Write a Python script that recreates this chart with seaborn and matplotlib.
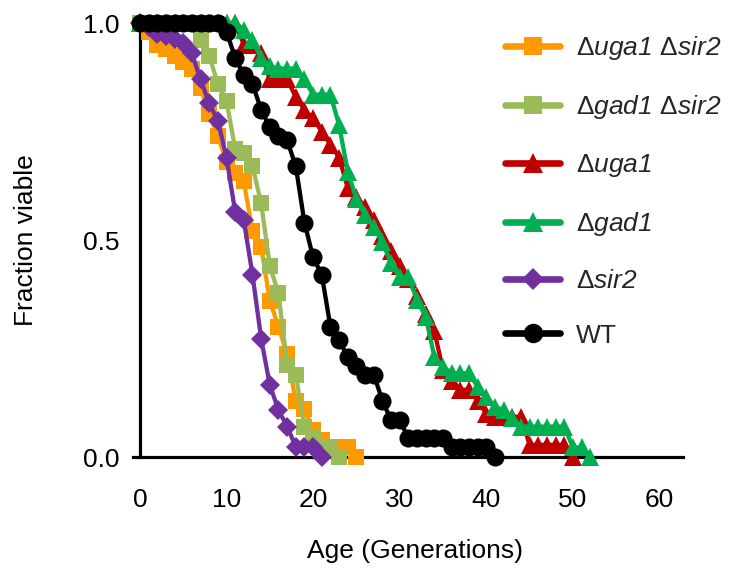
import matplotlib
matplotlib.use("Agg")
import matplotlib.pyplot as plt
import seaborn as sns
import pandas as pd
from matplotlib.lines import Line2D

# ---------------- data ----------------
gen_uga1_sir2 = [0, 1, 2, 3, 4, 5, 6, 7, 8, 9, 10, 11, 12, 13, 14, 15, 16, 17, 18, 19, 20, 21, 22, 23, 24, 25]
frac_uga1_sir2 = [1.0, 0.98, 0.95, 0.94, 0.925, 0.91, 0.895, 0.85, 0.79, 0.74, 0.68, 0.655, 0.635, 0.52, 0.485,
                  0.36, 0.30, 0.237, 0.128, 0.11, 0.062, 0.04, 0.024, 0.024, 0.024, 0.0]

gen_gad1_sir2 = [0, 1, 2, 3, 4, 5, 6, 7, 8, 9, 10, 11, 12, 13, 14, 15, 16, 17, 18, 19, 20, 21, 22, 23]
frac_gad1_sir2 = [1.0, 1.0, 1.0, 1.0, 1.0, 1.0, 1.0, 0.96, 0.925, 0.86, 0.82, 0.71, 0.70, 0.67, 0.585,
                  0.44, 0.377, 0.212, 0.189, 0.07, 0.047, 0.024, 0.024, 0.0]

gen_uga1 = [0, 1, 2, 3, 4, 5, 6, 7, 8, 9, 10, 11, 12, 13, 14, 15, 16, 17, 18, 19, 20, 21, 22, 23, 24, 25,
            26, 27, 28, 29, 30, 31, 32, 33, 34, 35, 36, 37, 38, 39, 40, 41, 42, 43, 44, 45, 46, 47, 48, 49, 50]
frac_uga1 = [1.0, 1.0, 1.0, 1.0, 1.0, 1.0, 1.0, 1.0, 1.0, 1.0, 1.0, 1.0, 0.95, 0.95, 0.93, 0.87, 0.87, 0.87,
             0.83, 0.80, 0.78, 0.75, 0.72, 0.69, 0.62, 0.60, 0.575, 0.545, 0.51, 0.475, 0.44, 0.41, 0.37,
             0.33, 0.29, 0.20, 0.175, 0.155, 0.155, 0.13, 0.10, 0.093, 0.093, 0.093, 0.093, 0.028, 0.028,
             0.028, 0.028, 0.028, 0.0]

gen_gad1 = [0, 1, 2, 3, 4, 5, 6, 7, 8, 9, 10, 11, 12, 13, 14, 15, 16, 17, 18, 19, 20, 21, 22, 23, 24, 25,
            26, 27, 28, 29, 30, 31, 32, 33, 34, 35, 36, 37, 38, 39, 40, 41, 42, 43, 44, 45, 46, 47, 48, 49,
            50, 51, 52]
frac_gad1 = [1.0, 1.0, 1.0, 1.0, 1.0, 1.0, 1.0, 1.0, 1.0, 1.0, 1.0, 1.0, 0.985, 0.96, 0.92, 0.90, 0.895,
             0.895, 0.895, 0.87, 0.835, 0.835, 0.835, 0.765, 0.657, 0.595, 0.557, 0.53, 0.495, 0.446,
             0.415, 0.415, 0.362, 0.323, 0.231, 0.208, 0.193, 0.193, 0.193, 0.162, 0.139, 0.116, 0.108,
             0.089, 0.07, 0.07, 0.07, 0.07, 0.07, 0.07, 0.022, 0.022, 0.0]

gen_sir2 = [0, 1, 2, 3, 4, 5, 6, 7, 8, 9, 10, 11, 12, 13, 14, 15, 16, 17, 18, 19, 20, 21]
frac_sir2 = [1.0, 0.99, 0.975, 0.97, 0.963, 0.955, 0.93, 0.87, 0.815, 0.775, 0.69, 0.565, 0.545, 0.42,
             0.273, 0.166, 0.108, 0.07, 0.024, 0.024, 0.024, 0.0]

gen_wt = [0, 1, 2, 3, 4, 5, 6, 7, 8, 9, 10, 11, 12, 13, 14, 15, 16, 17, 18, 19, 20, 21, 22, 23, 24, 25,
          26, 27, 28, 29, 30, 31, 32, 33, 34, 35, 36, 37, 38, 39, 40, 41]
frac_wt = [1.0, 1.0, 1.0, 1.0, 1.0, 1.0, 1.0, 1.0, 1.0, 1.0, 0.98, 0.92, 0.88, 0.86, 0.80, 0.76, 0.74,
           0.73, 0.67, 0.54, 0.46, 0.42, 0.30, 0.27, 0.23, 0.21, 0.19, 0.19, 0.13, 0.085, 0.085, 0.043,
           0.043, 0.043, 0.043, 0.043, 0.022, 0.022, 0.022, 0.022, 0.022, 0.0]

x_ticks = [0, 10, 20, 30, 40, 50, 60]
y_ticks = [0.0, 0.5, 1.0]
y_tick_labels = ["0.0", "0.5", "1.0"]

series_labels = [r"$\Delta\mathsf{uga1}\ \Delta\mathsf{sir2}$",
                 r"$\Delta\mathsf{gad1}\ \Delta\mathsf{sir2}$",
                 r"$\Delta\mathsf{uga1}$",
                 r"$\Delta\mathsf{gad1}$",
                 r"$\Delta\mathsf{sir2}$",
                 "WT"]

# ---------------- styling ----------------
sns.set_theme(style="white")
plt.rcParams["font.family"] = ["Liberation Sans", "DejaVu Sans"]
plt.rcParams["mathtext.fontset"] = "custom"
plt.rcParams["mathtext.rm"] = "Liberation Sans"
plt.rcParams["mathtext.it"] = "Liberation Sans:italic"
plt.rcParams["mathtext.sf"] = "Liberation Sans:italic"
plt.rcParams["mathtext.bf"] = "Liberation Sans:bold"

styles = [
    dict(color="#FF9900", marker="s", ms=12),
    dict(color="#9BBB59", marker="s", ms=12),
    dict(color="#C00000", marker="^", ms=13),
    dict(color="#00B050", marker="^", ms=13),
    dict(color="#7030A0", marker="D", ms=10),
    dict(color="#000000", marker="o", ms=13),
]
data = [
    (gen_uga1_sir2, frac_uga1_sir2),
    (gen_gad1_sir2, frac_gad1_sir2),
    (gen_uga1, frac_uga1),
    (gen_gad1, frac_gad1),
    (gen_sir2, frac_sir2),
    (gen_wt, frac_wt),
]

fig = plt.figure(figsize=(7.42, 5.72), dpi=100)
ax = fig.add_axes([0.1792, 0.1631, 0.7412, 0.8346])

for i, ((gx, fy), st) in enumerate(zip(data, styles)):
    df = pd.DataFrame({"gen": gx, "frac": fy})
    sns.lineplot(data=df, x="gen", y="frac", ax=ax, color=st["color"], marker=st["marker"],
                 markersize=st["ms"], markeredgewidth=0, linewidth=3.1, legend=False,
                 errorbar=None, clip_on=False, zorder=3 + i)

ax.set_xlim(-0.8, 62.7)
ax.set_ylim(-0.05, 1.05)

for s in ["top", "right"]:
    ax.spines[s].set_visible(False)
ax.spines["left"].set_position(("data", 0))
ax.spines["bottom"].set_position(("data", 0))
ax.spines["left"].set_bounds(0, 1)
for s in ["left", "bottom"]:
    ax.spines[s].set_linewidth(2.3)
    ax.spines[s].set_color("black")
    ax.spines[s].set_zorder(2)

ax.set_xticks(x_ticks)
ax.set_yticks(y_ticks)
ax.set_yticklabels(y_tick_labels)
ax.tick_params(axis="both", which="major", direction="out", length=7, width=2.3, color="black",
               labelsize=19, labelcolor="black")
ax.tick_params(axis="y", pad=8)
ax.tick_params(axis="x", pad=15)
ax.grid(False)

ax.set_xlabel("Age (Generations)", fontsize=19, color="black")
ax.set_ylabel("Fraction viable", fontsize=19, color="black")
ax.xaxis.set_label_coords(0.513, -0.126)
ax.yaxis.set_label_coords(-0.173, 0.5)

handles = [Line2D([0], [0], color=st["color"], marker=st["marker"], markersize=st["ms"] + 1,
                  markeredgewidth=0, linewidth=4.8, solid_capstyle="round") for st in styles]
ax.legend(handles, series_labels, loc="upper left", bbox_to_anchor=(0.6806, 0.940),
          bbox_transform=fig.transFigure, frameon=False, fontsize=19, handlelength=2.1,
          handletextpad=0.6, labelspacing=1.17, borderpad=0, borderaxespad=0)

fig.savefig("out.png", dpi=100)
